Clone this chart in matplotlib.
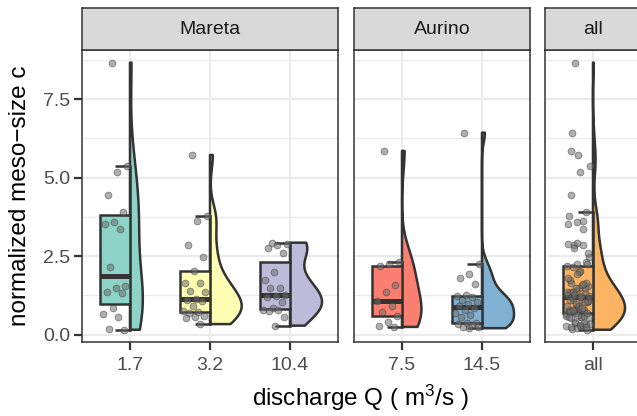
import numpy as np
import matplotlib
matplotlib.use("Agg")
import matplotlib.pyplot as plt
from matplotlib.patches import Polygon, Rectangle

plt.rcParams['font.family'] = ['Liberation Sans', 'DejaVu Sans']
plt.rcParams['mathtext.fontset'] = 'custom'
plt.rcParams['mathtext.rm'] = 'Liberation Sans'
plt.rcParams['mathtext.it'] = 'Liberation Sans'

# ---------------- data ----------------
facets = ["Mareta", "Aurino", "all"]
mareta_labels = ["1.7", "3.2", "10.4"]
aurino_labels = ["7.5", "14.5"]
all_labels = ["all"]

c_1_7 = [8.66, 5.38, 5.19, 4.45, 3.90, 3.59, 3.52, 3.36, 2.17, 1.54, 1.50,
         1.35, 1.33, 0.85, 0.67, 0.58, 0.18, 0.16]
c_3_2 = [5.72, 3.78, 3.62, 2.86, 2.46, 2.02, 1.66, 1.64, 1.38, 1.36, 1.14,
         1.12, 1.08, 0.90, 0.76, 0.74, 0.69, 0.60, 0.58, 0.53, 0.34]
c_10_4 = [2.93, 2.89, 2.86, 2.76, 2.60, 2.01, 1.75, 1.50, 1.48, 1.25, 1.22,
          1.19, 1.03, 0.86, 0.80, 0.79, 0.76, 0.56, 0.29]
c_7_5 = [5.85, 2.33, 2.26, 2.20, 1.59, 1.35, 1.08, 0.92, 0.71, 0.60, 0.40,
         0.29, 0.25]
c_14_5 = [6.43, 2.25, 1.94, 1.80, 1.62, 1.26, 1.24, 1.20, 1.11, 1.05, 0.99,
          0.92, 0.85, 0.80, 0.69, 0.64, 0.58, 0.37, 0.36, 0.35, 0.32, 0.26,
          0.26, 0.21]
c_all = c_1_7 + c_3_2 + c_10_4 + c_7_5 + c_14_5

colors = {"1.7": "#8DD3C7", "3.2": "#FFFFB3", "10.4": "#BEBADA",
          "7.5": "#FB8072", "14.5": "#80B1D3", "all": "#FDB462"}

panels = [
    ("Mareta", mareta_labels, [c_1_7, c_3_2, c_10_4]),
    ("Aurino", aurino_labels, [c_7_5, c_14_5]),
    ("all", all_labels, [c_all]),
]

y_ticks = [0.0, 2.5, 5.0, 7.5]
y_minor = [1.25, 3.75, 6.25, 8.75]
y_lim = (-0.23, 9.06)

# ---------------- layout (pixels) ----------------
W, H = 637, 416
fig = plt.figure(figsize=(W / 100, H / 100), dpi=100)
fig.patch.set_facecolor("white")

px_per_unit = 80.0
panel_top, panel_bot = 50, 342
strip_top = 8
x_starts = [82, 354, 545]

def rect(x0, x1, y0, y1):
    return [x0 / W, 1 - y1 / H, (x1 - x0) / W, (y1 - y0) / H]

dark = "#333333"
LW = 1.8

def kde_trim(v, n=512):
    v = np.asarray(v, float)
    sd = v.std(ddof=1)
    iqr = np.percentile(v, 75) - np.percentile(v, 25)
    bw = 0.9 * min(sd, iqr / 1.34) * len(v) ** (-0.2)
    grid = np.linspace(v.min(), v.max(), n)
    d = np.exp(-0.5 * ((grid[:, None] - v[None, :]) / bw) ** 2).sum(1)
    d /= (len(v) * bw * np.sqrt(2 * np.pi))
    return grid, d

def box_stats(v):
    v = np.asarray(v, float)
    q1, med, q3 = np.percentile(v, [25, 50, 75])
    iqr = q3 - q1
    lo = v[v >= q1 - 1.5 * iqr].min()
    hi = v[v <= q3 + 1.5 * iqr].max()
    return q1, med, q3, lo, hi

for pi, (name, labels, groups) in enumerate(panels):
    k = len(labels)
    x0 = x_starts[pi]
    x1 = x0 + (k + 0.2) * px_per_unit
    ax = fig.add_axes(rect(x0, x1, panel_top, panel_bot))
    ax.set_xlim(-0.6, k - 0.4)
    ax.set_ylim(*y_lim)
    ax.set_facecolor("white")
    for yv in y_minor:
        ax.axhline(yv, color="#EBEBEB", lw=1.0, zorder=0)
    for yv in y_ticks:
        ax.axhline(yv, color="#EBEBEB", lw=1.6, zorder=0)
    for xi in range(k):
        ax.axvline(xi, color="#EBEBEB", lw=1.6, zorder=0)

    dens = [kde_trim(g) for g in groups]
    dmax = max(d.max() for _, d in dens)
    for xi, (lab, g) in enumerate(zip(labels, groups)):
        col = colors[lab]
        grid, d = dens[xi]
        w = 0.4 * d / dmax
        xs = np.concatenate([[xi], xi + w, [xi]])
        ys = np.concatenate([[grid[0]], grid, [grid[-1]]])
        ax.add_patch(Polygon(np.column_stack([xs, ys]), closed=True,
                             facecolor=col, edgecolor=dark, lw=LW,
                             joinstyle="round", zorder=2))
        q1, med, q3, lo, hi = box_stats(g)
        bw_ = 0.38
        ax.add_patch(Rectangle((xi - bw_, q1), bw_, q3 - q1, facecolor=col,
                               edgecolor=dark, lw=LW, zorder=3))
        ax.plot([xi - bw_, xi], [med, med], color=dark, lw=3.6,
                solid_capstyle="butt", zorder=4)
        ax.plot([xi, xi], [q3, hi], color=dark, lw=LW, zorder=3)
        ax.plot([xi, xi], [lo, q1], color=dark, lw=LW, zorder=3)
        ax.plot([xi - bw_ / 2, xi], [hi, hi], color=dark, lw=LW,
                solid_capstyle="butt", zorder=3)
        ax.plot([xi - bw_ / 2, xi], [lo, lo], color=dark, lw=LW,
                solid_capstyle="butt", zorder=3)
        gv = np.asarray(g, float)
        idx = np.arange(len(gv))
        u = 2 * ((idx * 0.6180339887 + 0.37) % 1.0) - 1
        px = xi - 0.19 + 0.15 * u
        ax.scatter(px, gv, s=24, facecolor="#6E6E6E", edgecolor="#3A3A3A",
                   linewidths=0.6, alpha=0.55, zorder=5)

    ax.set_xticks(range(k))
    ax.set_xticklabels(labels)
    ax.set_yticks(y_ticks)
    if pi == 0:
        ax.set_yticklabels(["0.0", "2.5", "5.0", "7.5"])
    else:
        ax.tick_params(axis="y", left=False, labelleft=False)
    ax.tick_params(axis="both", colors=dark, labelcolor="#4D4D4D",
                   labelsize=14, length=5.5, width=1.6, pad=3)
    ax.tick_params(axis="x", pad=5)
    for sp in ax.spines.values():
        sp.set_color(dark)
        sp.set_linewidth(1.1)
        sp.set_zorder(10)

    sax = fig.add_axes(rect(x0, x1, strip_top, panel_top))
    sax.set_facecolor("#D9D9D9")
    sax.set_xticks([]); sax.set_yticks([])
    for sp in sax.spines.values():
        sp.set_color(dark)
        sp.set_linewidth(1.1)
    sax.text(0.5, 0.5, name, transform=sax.transAxes, ha="center",
             va="center", fontsize=14, color="#1A1A1A")

fig.text(20 / W, 1 - 196 / H, "normalized meso\u2212size c", rotation=90,
         ha="center", va="center", fontsize=17.5, color="black")
fig.text(360 / W, 1 - 398 / H, r"discharge Q ( m$^{3}$/s )",
         ha="center", va="center", fontsize=17.5, color="black")

fig.savefig("out.png", dpi=100, facecolor="white")
